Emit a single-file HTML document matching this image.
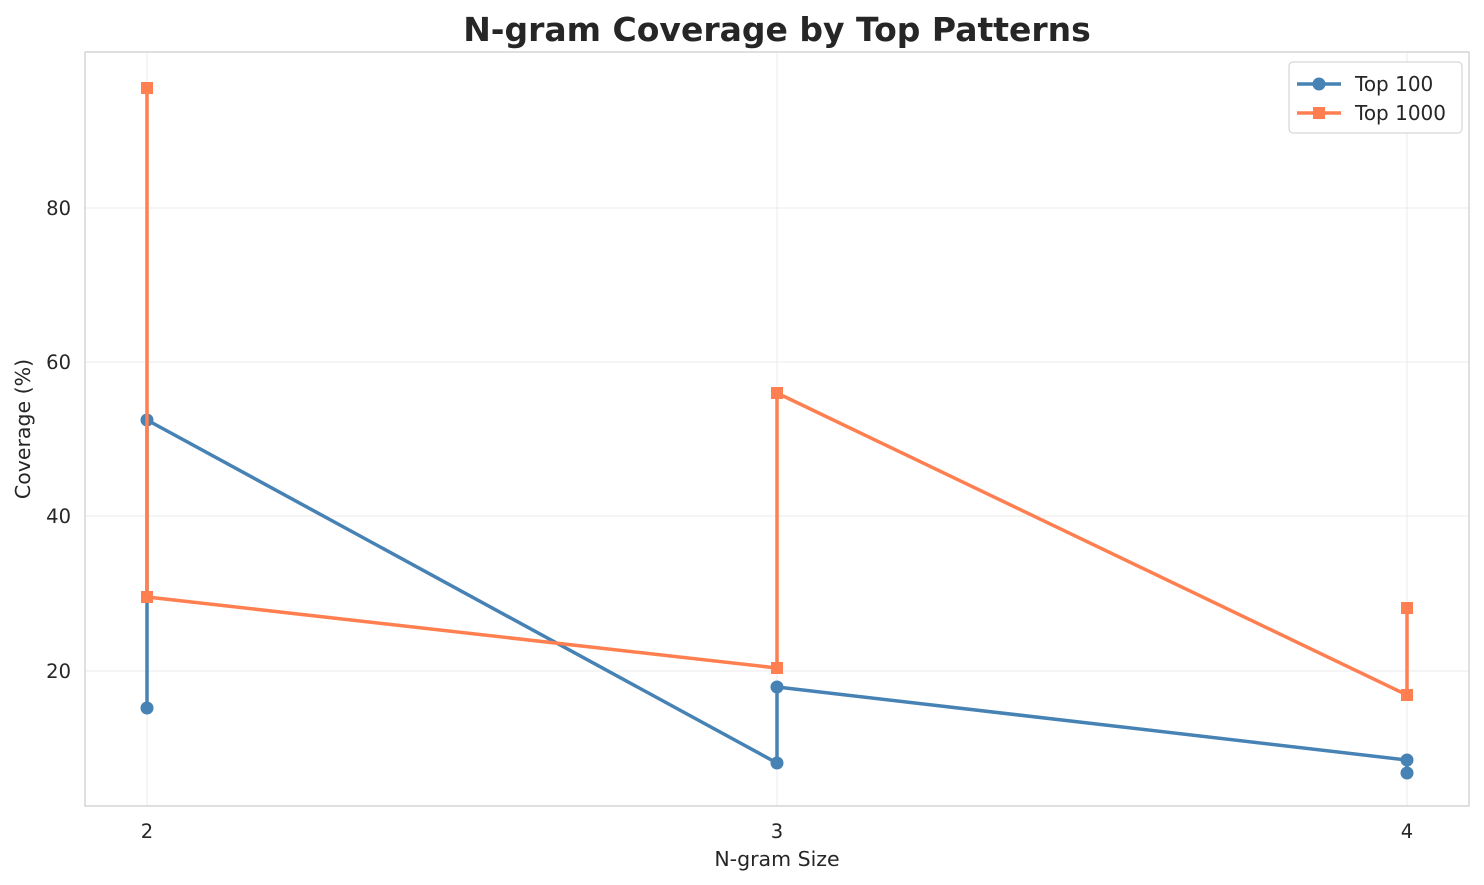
<!DOCTYPE html>
<html><head><meta charset="utf-8"><style>body{margin:0;background:#fff}svg{display:block}text{font-family:"DejaVu Sans","Liberation Sans",sans-serif;fill:#262626}</style></head>
<body>
<svg width="1484" height="885" xmlns="http://www.w3.org/2000/svg">
<rect width="1484" height="885" fill="#fff"/>
<g stroke="#ebebeb" stroke-width="1">
<line x1="147" y1="52" x2="147" y2="806"/><line x1="777" y1="52" x2="777" y2="806"/><line x1="1407" y1="52" x2="1407" y2="806"/>
<line x1="85" y1="208" x2="1469" y2="208"/><line x1="85" y1="362" x2="1469" y2="362"/><line x1="85" y1="516" x2="1469" y2="516"/><line x1="85" y1="671" x2="1469" y2="671"/>
</g>
<rect x="85" y="52" width="1384" height="754" fill="none" stroke="#ccc" stroke-width="1.2"/>
<g font-size="19.5" text-anchor="middle">
<text x="147" y="838">2</text><text x="777" y="838">3</text><text x="1407" y="838">4</text>
</g>
<g font-size="19.5" text-anchor="end">
<text x="71" y="215">80</text><text x="71" y="369">60</text><text x="71" y="523">40</text><text x="71" y="678">20</text>
</g>
<text x="777" y="866" font-size="20.5" text-anchor="middle">N-gram Size</text>
<text transform="translate(30,429) rotate(-90)" font-size="20.5" text-anchor="middle">Coverage (%)</text>
<text x="777" y="41" font-size="33" font-weight="bold" text-anchor="middle">N-gram Coverage by Top Patterns</text>
<polyline fill="none" stroke="#4682b4" stroke-width="3.5" stroke-linejoin="round" points="147,708 147,420 777,763 777,687 1407,760 1407,773"/>
<g fill="#4682b4"><circle cx="147" cy="708" r="6.5"/><circle cx="147" cy="420" r="6.5"/><circle cx="777" cy="763" r="6.5"/><circle cx="777" cy="687" r="6.5"/><circle cx="1407" cy="760" r="6.5"/><circle cx="1407" cy="773" r="6.5"/></g>
<polyline fill="none" stroke="#ff7f50" stroke-width="3.5" stroke-linejoin="round" points="147,88 147,597 777,668 777,393 1407,695 1407,608"/>
<g fill="#ff7f50"><rect x="141" y="82" width="12" height="12"/><rect x="141" y="591" width="12" height="12"/><rect x="771" y="662" width="12" height="12"/><rect x="771" y="387" width="12" height="12"/><rect x="1401" y="689" width="12" height="12"/><rect x="1401" y="602" width="12" height="12"/></g>
<rect x="1289" y="62" width="173" height="71" rx="4" fill="#fff" stroke="#ccc"/>
<line x1="1297" y1="84" x2="1341" y2="84" stroke="#4682b4" stroke-width="3.5"/><circle cx="1319" cy="84" r="6.5" fill="#4682b4"/>
<text x="1355" y="91" font-size="20">Top 100</text>
<line x1="1297" y1="113" x2="1341" y2="113" stroke="#ff7f50" stroke-width="3.5"/><rect x="1313" y="107" width="12" height="12" fill="#ff7f50"/>
<text x="1355" y="120" font-size="20">Top 1000</text>
</svg>
</body></html>
